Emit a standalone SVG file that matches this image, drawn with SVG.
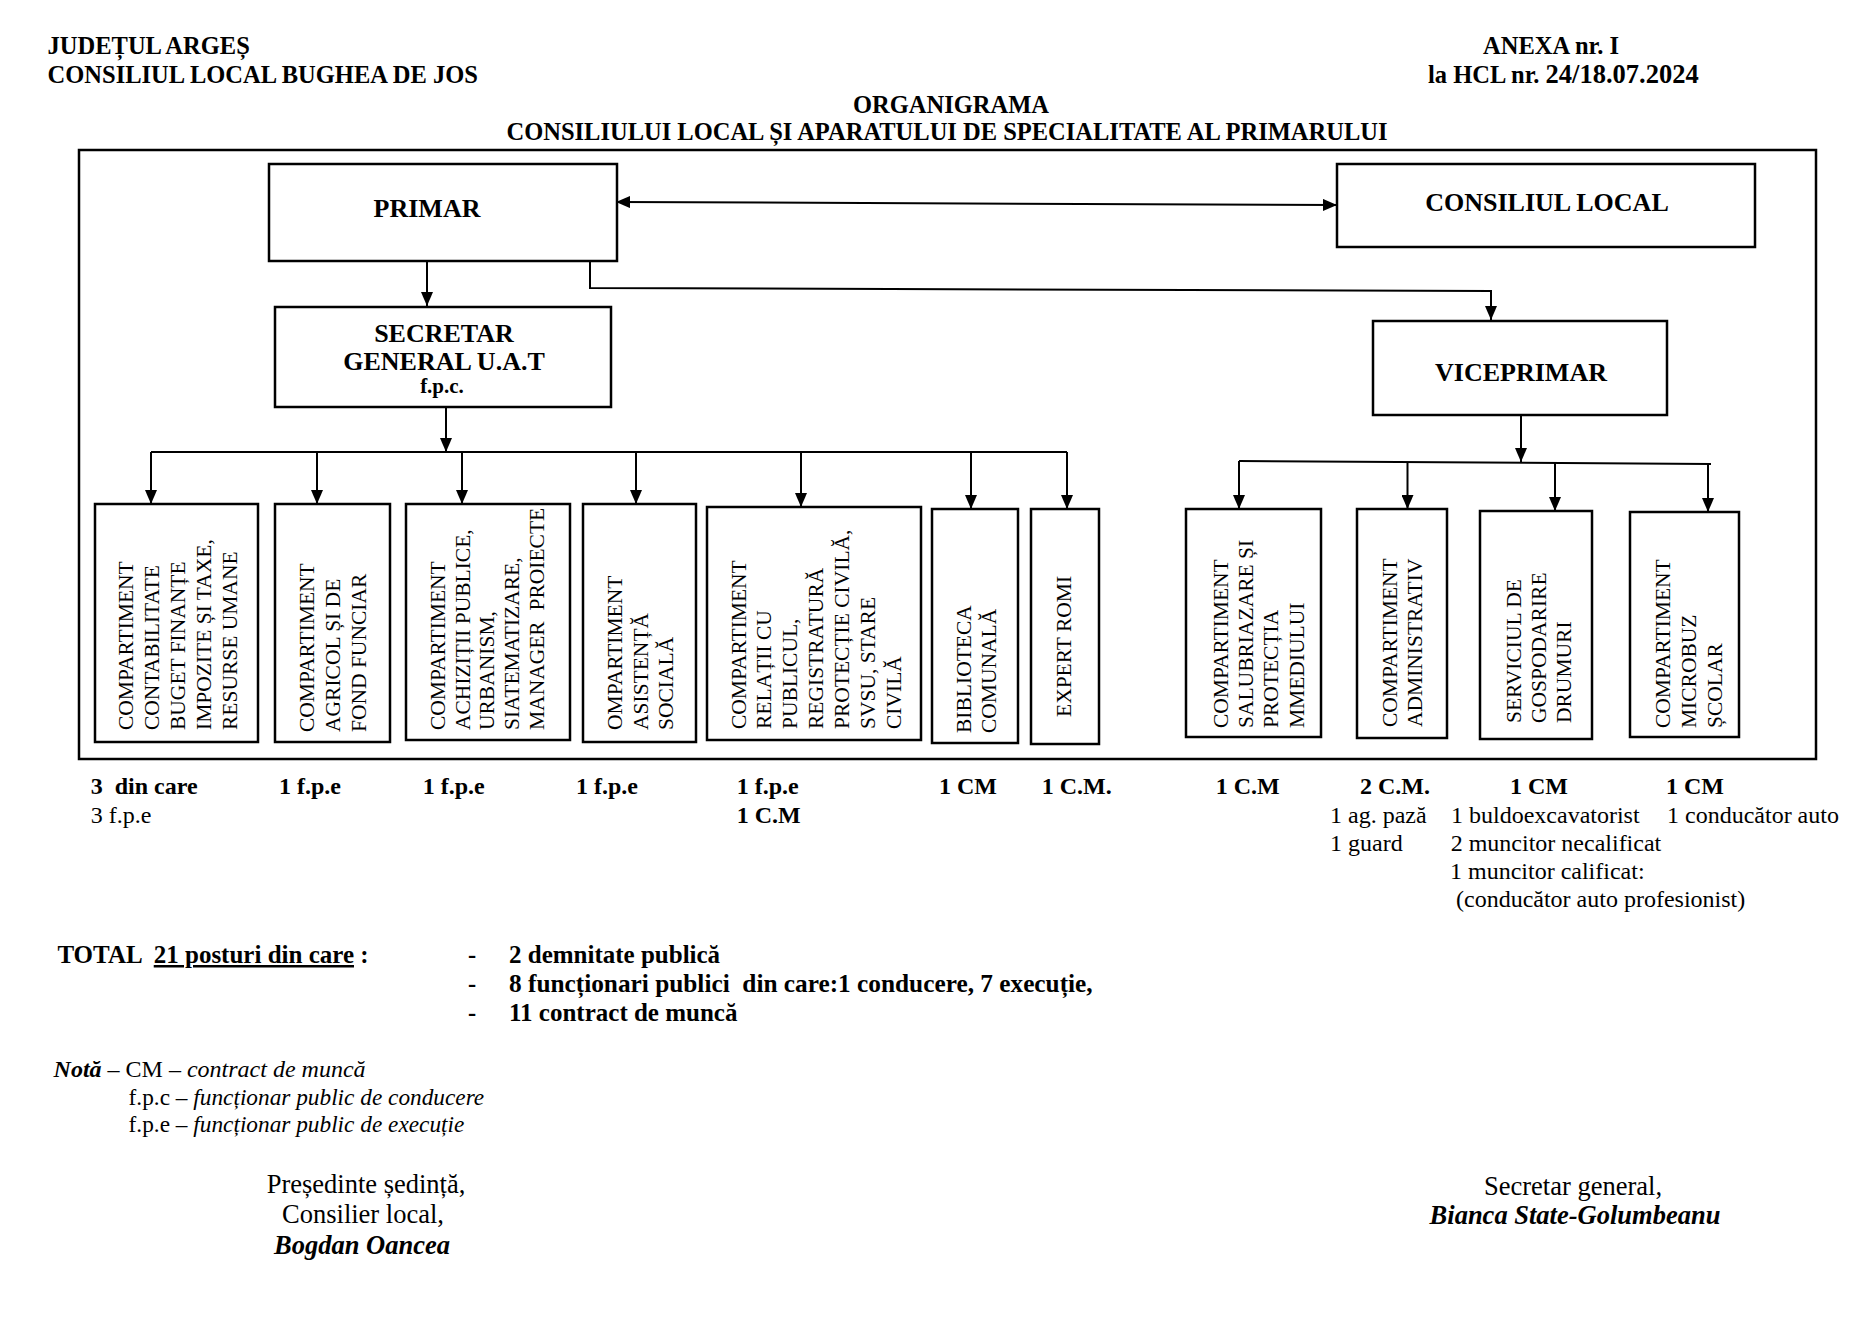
<svg xmlns="http://www.w3.org/2000/svg" width="1864" height="1318" viewBox="0 0 1864 1318">
<style>
text{font-family:"Liberation Serif","Times New Roman",serif;fill:#000;white-space:pre}
.b{font-weight:bold}
.i{font-style:italic}
.h{font-size:24.5px;font-weight:bold}
.t26{font-size:26px;font-weight:bold}
.v{font-size:21.5px}
.n{font-size:24px}
.s{font-size:26.5px}
.box{fill:#fff;stroke:#000;stroke-width:2.5}
.ln{fill:none;stroke:#000;stroke-width:2}
</style>
<defs>
<marker id="ah" viewBox="0 0 14 12" refX="14" refY="6" markerUnits="userSpaceOnUse" markerWidth="14" markerHeight="12" orient="auto-start-reverse">
<path d="M0,0 L14,6 L0,12 z" fill="#000"/>
</marker>
</defs>
<rect width="1864" height="1318" fill="#fff"/>

<g id="header">
<text class="h" x="47.6" y="54">JUDEȚUL ARGEȘ</text>
<text class="h" x="47.6" y="83">CONSILIUL LOCAL BUGHEA DE JOS</text>
<text class="h" x="1483" y="54">ANEXA nr. I</text>
<text class="h" x="1428" y="83">la HCL nr. <tspan font-size="26.5">24/18.07.2024</tspan></text>
<text class="h" x="951" y="113" text-anchor="middle">ORGANIGRAMA</text>
<text class="h" x="947" y="140" text-anchor="middle">CONSILIULUI LOCAL ȘI APARATULUI DE SPECIALITATE AL PRIMARULUI</text>
</g>

<rect id="frame" x="79" y="150" width="1737" height="609" fill="none" stroke="#000" stroke-width="2.5"/>

<g id="connectors">
<line class="ln" x1="616" y1="202" x2="1337" y2="205" marker-start="url(#ah)" marker-end="url(#ah)"/>
<line class="ln" x1="427" y1="261" x2="427" y2="306" marker-end="url(#ah)"/>
<polyline class="ln" points="590,261 590,288 1491,291 1491,320" marker-end="url(#ah)"/>
<line class="ln" x1="446" y1="407" x2="446" y2="452" marker-end="url(#ah)"/>
<polyline class="ln" points="151,452 1067,452"/>
<line class="ln" x1="151" y1="452" x2="151" y2="504" marker-end="url(#ah)"/>
<line class="ln" x1="317" y1="452" x2="317" y2="504" marker-end="url(#ah)"/>
<line class="ln" x1="462" y1="452" x2="462" y2="504" marker-end="url(#ah)"/>
<line class="ln" x1="636" y1="452" x2="636" y2="504" marker-end="url(#ah)"/>
<line class="ln" x1="801" y1="452" x2="801" y2="507" marker-end="url(#ah)"/>
<line class="ln" x1="971" y1="452" x2="971" y2="509" marker-end="url(#ah)"/>
<line class="ln" x1="1067" y1="452" x2="1067" y2="509" marker-end="url(#ah)"/>
<line class="ln" x1="1521" y1="415" x2="1521" y2="462" marker-end="url(#ah)"/>
<polyline class="ln" points="1239,461 1711,464"/>
<line class="ln" x1="1239" y1="461" x2="1239" y2="509" marker-end="url(#ah)"/>
<line class="ln" x1="1407.5" y1="462" x2="1407.5" y2="509" marker-end="url(#ah)"/>
<line class="ln" x1="1555" y1="463" x2="1555" y2="511" marker-end="url(#ah)"/>
<line class="ln" x1="1708" y1="464" x2="1708" y2="512" marker-end="url(#ah)"/>
</g>

<g id="primar">
<rect class="box" x="269" y="164" width="348" height="97"/>
<text class="t26" x="427" y="217" text-anchor="middle">PRIMAR</text>
</g>
<g id="consiliul-local">
<rect class="box" x="1337" y="164" width="418" height="83"/>
<text class="t26" x="1547" y="211" text-anchor="middle">CONSILIUL LOCAL</text>
</g>
<g id="secretar">
<rect class="box" x="275" y="307" width="336" height="100"/>
<text class="t26" x="444" y="341.7" text-anchor="middle">SECRETAR</text>
<text class="t26" x="444" y="370" text-anchor="middle">GENERAL U.A.T</text>
<text class="b" font-size="21" x="442" y="393" text-anchor="middle">f.p.c.</text>
</g>
<g id="viceprimar">
<rect class="box" x="1373" y="321" width="294" height="94"/>
<text class="t26" x="1521" y="381" text-anchor="middle">VICEPRIMAR</text>
</g>

<g id="contabilitate">
<rect class="box" x="95" y="504" width="163" height="238"/>
<text class="v" transform="translate(133,730) rotate(-90)"><tspan x="0" y="0">COMPARTIMENT</tspan><tspan x="0" dy="26">CONTABILITATE</tspan><tspan x="0" dy="26">BUGET FINANȚE</tspan><tspan x="0" dy="26">IMPOZITE ȘI TAXE,</tspan><tspan x="0" dy="26">RESURSE UMANE</tspan></text>
</g>
<g id="agricol">
<rect class="box" x="275" y="504" width="115" height="238"/>
<text class="v" transform="translate(314,732) rotate(-90)"><tspan x="0" y="0">COMPARTIMENT</tspan><tspan x="0" dy="26">AGRICOL ȘI DE</tspan><tspan x="0" dy="26">FOND FUNCIAR</tspan></text>
</g>
<g id="achizitii">
<rect class="box" x="406" y="504" width="164" height="236"/>
<text class="v" transform="translate(445,730) rotate(-90)"><tspan x="0" y="0">COMPARTIMENT</tspan><tspan x="0" dy="24.7">ACHIZIȚII PUBLICE,</tspan><tspan x="0" dy="24.7">URBANISM,</tspan><tspan x="0" dy="24.7">SIATEMATIZARE,</tspan><tspan x="0" dy="24.7">MANAGER  PROIECTE</tspan></text>
</g>
<g id="asistenta">
<rect class="box" x="583" y="504" width="113" height="238"/>
<text class="v" transform="translate(622,730) rotate(-90)"><tspan x="0" y="0">OMPARTIMENT</tspan><tspan x="0" dy="25.5">ASISTENȚĂ</tspan><tspan x="0" dy="25.5">SOCIALĂ</tspan></text>
</g>
<g id="relatii">
<rect class="box" x="707" y="507" width="214" height="233"/>
<text class="v" transform="translate(745.5,729) rotate(-90)"><tspan x="0" y="0">COMPARTIMENT</tspan><tspan x="0" dy="25.9">RELAȚII CU</tspan><tspan x="0" dy="25.9">PUBLICUL,</tspan><tspan x="0" dy="25.9">REGISTRATURĂ</tspan><tspan x="0" dy="25.9">PROTECȚIE CIVILĂ,</tspan><tspan x="0" dy="25.9">SVSU, STARE</tspan><tspan x="0" dy="25.9">CIVILĂ</tspan></text>
</g>
<g id="biblioteca">
<rect class="box" x="932" y="509" width="86" height="234"/>
<text class="v" transform="translate(970.5,733) rotate(-90)"><tspan x="0" y="0">BIBLIOTECA</tspan><tspan x="0" dy="25">COMUNALĂ</tspan></text>
</g>
<g id="expert-romi">
<rect class="box" x="1031" y="509" width="68" height="235"/>
<text class="v" transform="translate(1070.5,717) rotate(-90)">EXPERT ROMI</text>
</g>

<g id="salubrizare">
<rect class="box" x="1186" y="509" width="135" height="228"/>
<text class="v" transform="translate(1227.5,728) rotate(-90)"><tspan x="0" y="0">COMPARTIMENT</tspan><tspan x="0" dy="25.4">SALUBRIAZARE ȘI</tspan><tspan x="0" dy="25.4">PROTECȚIA</tspan><tspan x="0" dy="25.4">MMEDIULUI</tspan></text>
</g>
<g id="administrativ">
<rect class="box" x="1357" y="509" width="90" height="229"/>
<text class="v" transform="translate(1397,727) rotate(-90)"><tspan x="0" y="0">COMPARTIMENT</tspan><tspan x="0" dy="25">ADMINISTRATIV</tspan></text>
</g>
<g id="serviciul">
<rect class="box" x="1480" y="511" width="112" height="228"/>
<text class="v" transform="translate(1520.6,723) rotate(-90)"><tspan x="0" y="0">SERVICIUL DE</tspan><tspan x="0" dy="25.2">GOSPODARIRE</tspan><tspan x="0" dy="25.2">DRUMURI</tspan></text>
</g>
<g id="microbuz">
<rect class="box" x="1630" y="512" width="109" height="225"/>
<text class="v" transform="translate(1670,728) rotate(-90)"><tspan x="0" y="0">COMPARTIMENT</tspan><tspan x="0" dy="25.9">MICROBUZ</tspan><tspan x="0" dy="25.9">ȘCOLAR</tspan></text>
</g>

<g id="counts" class="n">
<text class="b" x="90.7" y="794">3  din care</text>
<text x="90.7" y="822.7">3 f.p.e</text>
<text class="b" x="279" y="794">1 f.p.e</text>
<text class="b" x="422.7" y="794">1 f.p.e</text>
<text class="b" x="576" y="794">1 f.p.e</text>
<text class="b" x="736.7" y="794">1 f.p.e</text>
<text class="b" x="736.7" y="822.7">1 C.M</text>
<text class="b" x="939" y="794">1 CM</text>
<text class="b" x="1041.7" y="794">1 C.M.</text>
<text class="b" x="1215.7" y="794">1 C.M</text>
<text class="b" x="1360" y="794">2 C.M.</text>
<text class="b" x="1510" y="794">1 CM</text>
<text class="b" x="1666" y="794">1 CM</text>
<text x="1330" y="822.7">1 ag. pază</text>
<text x="1330" y="850.7">1 guard</text>
<text x="1451" y="822.7">1 buldoexcavatorist</text>
<text x="1450.7" y="850.7">2 muncitor necalificat</text>
<text x="1450" y="879">1 muncitor calificat:</text>
<text x="1450" y="907"> (conducător auto profesionist)</text>
<text x="1667" y="822.7">1 conducător auto</text>
</g>

<g id="total" class="h" font-size="25">
<text x="57.4" y="963" style="font-size:25px">TOTAL  <tspan text-decoration="underline">21 posturi din care</tspan> :</text>
<text x="468" y="963">-</text>
<text x="509" y="963" style="font-size:25px">2 demnitate publică</text>
<text x="468" y="992">-</text>
<text x="509" y="992" style="font-size:25.3px">8 funcționari publici  din care:1 conducere, 7 execuție,</text>
<text x="468" y="1021">-</text>
<text x="509" y="1021" style="font-size:25px">11 contract de muncă</text>
</g>

<g id="nota" class="n">
<text x="53.6" y="1076.7"><tspan class="b i">Notă</tspan> – CM – <tspan class="i">contract de muncă</tspan></text>
<text x="128.6" y="1105" style="font-size:23.3px">f.p.c – <tspan class="i">funcționar public de conducere</tspan></text>
<text x="128.6" y="1132" style="font-size:23.3px">f.p.e – <tspan class="i">funcționar public de execuție</tspan></text>
</g>

<g id="semnaturi" class="s">
<text x="366" y="1193" text-anchor="middle">Președinte ședință,</text>
<text x="363" y="1222.7" text-anchor="middle">Consilier local,</text>
<text class="b i" x="362" y="1254" text-anchor="middle">Bogdan Oancea</text>
<text x="1573" y="1195" text-anchor="middle">Secretar general,</text>
<text class="b i" x="1575" y="1224" text-anchor="middle">Bianca State-Golumbeanu</text>
</g>
</svg>
